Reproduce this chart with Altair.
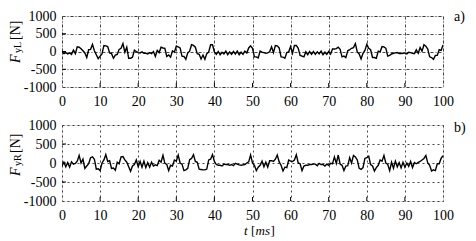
import altair as alt
import pandas as pd

# time axis samples (ms)
t_ms = [i * 0.5 for i in range(201)]

# F_yL [N], read from panel a) every 0.5 ms
fy_left = [
    -20, -60, -30, -70, -40, -80, 40, -60, 130, 120, 80, 20, -40, -170, 50, 60, 200, 20, -90, -200,
    -130, -70, 170, 160, 140, -40, -60, -190, -100, -80, 60, 90, 220, -20, 120, -190, -190, -160, 40, 0,
    -30, -40, -10, -50, -50, -70, -30, -60, 0, -140, 30, -30, 120, 100, 90, -140, -100, -160, 20, -20,
    150, 130, 100, -130, -140, -220, -40, 10, 190, 170, 120, -60, -80, -210, -100, -220, -60, -20, 190, 190,
    -10, -80, 0, -90, -20, -70, 10, -90, -10, -80, 0, -70, 10, -90, -20, -80, 10, -40, 100, 160,
    90, -150, -150, -180, 10, -20, -30, -50, -40, -10, 130, -30, 170, 160, 100, -150, -160, -190, -30, -10,
    140, -50, 170, 170, 90, -110, -130, -150, -10, -90, 0, -80, 0, -80, -10, -70, 10, -90, -20, -80,
    0, -70, 70, 70, 80, 120, 60, -150, -130, -170, 20, 50, 90, 110, 220, -10, -70, -210, -50, 30,
    200, 90, 50, -170, -170, -190, 10, -10, 140, 130, 90, -130, -110, -70, -50, -40, -30, -60, -60, -50,
    -40, -70, -20, -30, -50, -60, 50, -50, 110, 10, 190, 150, 70, -150, -170, -220, -110, -110, 50, 30,
    180,
]

# F_yR [N], read from panel b) every 0.5 ms
fy_right = [
    -80, 20, -100, 10, -110, 30, -30, -10, 50, 200, 0, 100, -140, -80, -20, 140, 160, 100, -160, -150,
    -200, 0, 80, 220, 40, 60, -140, -130, -190, 20, -20, 160, 170, 80, 20, -100, -220, -80, -40, 80,
    -100, 40, -110, 50, -120, 10, -110, 20, -80, -50, -70, 70, 20, 200, -10, -40, -200, -60, -80, 80,
    50, 210, 0, -30, -200, -180, -140, 90, 120, 220, 40, 20, -160, -170, -180, -180, -160, 80, 100, 220,
    40, -40, -60, -60, -80, -30, -40, -40, -60, -40, -70, -10, -30, -50, -60, -50, -40, 0, 30, 210,
    0, -60, -200, -110, -60, 50, -100, 20, -110, 60, 60, 40, 100, 210, 30, -60, -210, -110, -120, 80,
    50, 40, 80, 220, 0, -20, -200, -80, -60, -60, -40, -40, -30, -30, -70, -10, -40, -40, -80, -30,
    -60, -10, -20, 160, -10, 210, -30, -60, -200, -80, -70, 140, 0, 200, 160, 80, -140, -170, -120, 120,
    140, 180, -40, -80, -210, -120, -60, 80, 50, 200, 0, -40, -200, 20, -140, 50, -100, 10, -130, 20,
    -110, 0, -90, 40, -120, 10, -20, 20, 40, 80, 120, 200, 0, -60, -210, -180, -200, -20, -20, 120,
    190,
]

x_ticks = [0, 10, 20, 30, 40, 50, 60, 70, 80, 90, 100]
y_ticks = [-1000, -500, 0, 500, 1000]
inner_x_ticks = [10, 20, 30, 40, 50, 60, 70, 80, 90]
inner_y_ticks = [-500, 0, 500]

FONT = "Liberation Serif"
W = 381


def one(text):
    return pd.DataFrame({"s": [text]})


def panel(values, h, sub, tag, dash, title_y, tag_y, with_xtitle):
    df = pd.DataFrame({"t": t_ms, "F": values})
    xs = alt.Scale(domain=[0, 100], nice=False, zero=False)
    ys = alt.Scale(domain=[-1000, 1000], nice=False)
    ax_x = alt.Axis(
        values=x_ticks, grid=True, gridDash=dash, gridColor="black", gridOpacity=0.9,
        gridWidth=0.8, ticks=False, domain=False, labelFont=FONT, labelFontSize=14,
        labelColor="black", labelPadding=7, labelFlush=False, title=None,
        labelExpr="'' + datum.value")
    ax_y = alt.Axis(
        values=y_ticks, grid=True, gridDash=dash, gridColor="black", gridOpacity=0.9,
        gridWidth=0.8, ticks=False, domain=False, labelFont=FONT, labelFontSize=14,
        labelColor="black", labelPadding=6, title=None,
        labelExpr="'' + datum.value")
    line = alt.Chart(df).mark_line(color="black", strokeWidth=1.4, clip=True).encode(
        x=alt.X("t:Q", scale=xs, axis=ax_x),
        y=alt.Y("F:Q", scale=ys, axis=ax_y),
    )
    xt = alt.Chart(pd.DataFrame({"t": inner_x_ticks})).mark_rule(color="black", strokeWidth=1).encode(
        x=alt.X("t:Q", scale=xs, axis=ax_x), y=alt.value(h), y2=alt.value(h - 4))
    yt = alt.Chart(pd.DataFrame({"F": inner_y_ticks})).mark_rule(color="black", strokeWidth=1).encode(
        y=alt.Y("F:Q", scale=ys, axis=ax_y), x=alt.value(0), x2=alt.value(4))
    txt = dict(font=FONT, color="black", angle=270, align="left", baseline="alphabetic")
    t_f = alt.Chart(one("F")).mark_text(fontSize=14, fontStyle="italic", **txt).encode(
        text="s:N", x=alt.value(-42), y=alt.value(title_y))
    t_sub = alt.Chart(one(sub)).mark_text(fontSize=10, **txt).encode(
        text="s:N", x=alt.value(-41), y=alt.value(title_y - 10))
    t_n = alt.Chart(one("[N]")).mark_text(fontSize=14, **txt).encode(
        text="s:N", x=alt.value(-42), y=alt.value(title_y - 23))
    t_tag = alt.Chart(one(tag)).mark_text(fontSize=14, font=FONT, color="black", align="left",
                                          baseline="alphabetic").encode(
        text="s:N", x=alt.value(392), y=alt.value(tag_y))
    layers = [line, xt, yt, t_f, t_sub, t_n, t_tag]
    if with_xtitle:
        base = dict(font=FONT, color="black", fontSize=13, align="left", baseline="alphabetic")
        layers += [
            alt.Chart(one("t")).mark_text(fontStyle="italic", **base).encode(
                text="s:N", x=alt.value(182), y=alt.value(h + 34)),
            alt.Chart(one("[")).mark_text(**base).encode(
                text="s:N", x=alt.value(189), y=alt.value(h + 34)),
            alt.Chart(one("ms")).mark_text(fontStyle="italic", **base).encode(
                text="s:N", x=alt.value(193.5), y=alt.value(h + 34)),
            alt.Chart(one("]")).mark_text(**base).encode(
                text="s:N", x=alt.value(208.5), y=alt.value(h + 34)),
        ]
    return alt.layer(*layers).properties(width=W, height=h)


top = panel(fy_left, 71, "yL", "a)", [3, 2, 1, 2], 47, 5, False)
bottom = panel(fy_right, 76, "yR", "b)", [2, 3], 51, 7, True)

chart = alt.vconcat(top, bottom, spacing=8).properties(padding=0).configure_view(
    stroke="black", strokeWidth=1).configure(background="white")

chart.save("out.html", embed_options={"renderer": "svg", "actions": False})
